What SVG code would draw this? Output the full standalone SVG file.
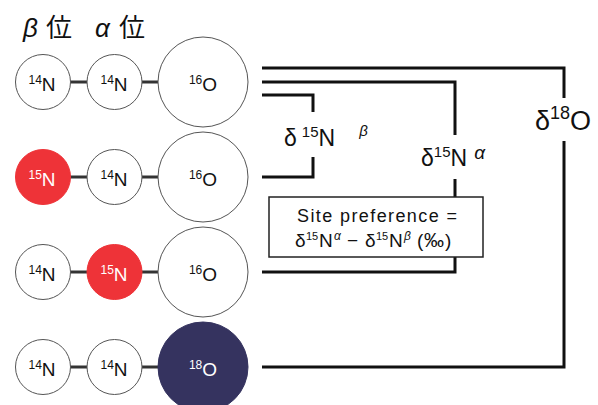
<svg xmlns="http://www.w3.org/2000/svg" width="598" height="405" viewBox="0 0 598 405">
<style>
.atom{stroke:#555;stroke-width:1;fill:#fff}
.red{fill:#EE3338;stroke:#EE3338}
.navy{fill:#35335F;stroke:#35335F}
.bond{stroke:#333;stroke-width:3}
.conn{fill:none;stroke:#111;stroke-width:3}
text{font-family:"Liberation Sans","Noto Sans CJK JP",sans-serif;fill:#111}
.lbl{font-size:19px;text-anchor:middle}
.w{fill:#fff}
.sup{font-size:12px}
.big{font-size:23px}
.bsup{font-size:15px}
.gk{font-style:italic}
.title{font-size:26px}
.box{font-size:18px}
.bx{font-size:19px}
.bs{font-size:11px}
</style>
<g id="title">
<text class="title gk" x="23" y="37">β</text>
<text class="title" x="46" y="37" font-family="Noto Sans CJK JP, sans-serif">位</text>
<text class="title gk" x="95" y="37">α</text>
<text class="title" x="119" y="37" font-family="Noto Sans CJK JP, sans-serif">位</text>
</g>
<g id="connectors">
<path class="conn" d="M262,68 H564 V98 M564,141 V367 H262"/>
<path class="conn" d="M262,82 H455 V135 M455,179 V272 H262"/>
<path class="conn" d="M262,95 H313 V112 M313,157 V177 H262"/>
</g>
<g id="row1">
<line class="bond" x1="70" y1="82" x2="88" y2="82"/>
<line class="bond" x1="141" y1="82" x2="159" y2="82"/>
<circle class="atom" cx="43" cy="82" r="27.5"/>
<circle class="atom" cx="114.5" cy="82" r="27.5"/>
<circle class="atom" cx="203" cy="82" r="45"/>
<text class="lbl" x="42" y="91"><tspan class="sup" dy="-7">14</tspan><tspan dy="7">N</tspan></text>
<text class="lbl" x="114" y="91"><tspan class="sup" dy="-7">14</tspan><tspan dy="7">N</tspan></text>
<text class="lbl" x="203" y="91"><tspan class="sup" dy="-7">16</tspan><tspan dy="7">O</tspan></text>
</g>
<g id="row2">
<line class="bond" x1="70" y1="177" x2="88" y2="177"/>
<line class="bond" x1="141" y1="177" x2="159" y2="177"/>
<circle class="atom red" cx="43" cy="177" r="27.5"/>
<circle class="atom" cx="114.5" cy="177" r="27.5"/>
<circle class="atom" cx="203" cy="177" r="45"/>
<text class="lbl w" x="42" y="186"><tspan class="sup" dy="-7">15</tspan><tspan dy="7">N</tspan></text>
<text class="lbl" x="114" y="186"><tspan class="sup" dy="-7">14</tspan><tspan dy="7">N</tspan></text>
<text class="lbl" x="203" y="186"><tspan class="sup" dy="-7">16</tspan><tspan dy="7">O</tspan></text>
</g>
<g id="row3">
<line class="bond" x1="70" y1="272" x2="88" y2="272"/>
<line class="bond" x1="141" y1="272" x2="159" y2="272"/>
<circle class="atom" cx="43" cy="272" r="27.5"/>
<circle class="atom red" cx="114.5" cy="272" r="27.5"/>
<circle class="atom" cx="203" cy="272" r="45"/>
<text class="lbl" x="42" y="281"><tspan class="sup" dy="-7">14</tspan><tspan dy="7">N</tspan></text>
<text class="lbl w" x="114" y="281"><tspan class="sup" dy="-7">15</tspan><tspan dy="7">N</tspan></text>
<text class="lbl" x="203" y="281"><tspan class="sup" dy="-7">16</tspan><tspan dy="7">O</tspan></text>
</g>
<g id="row4">
<line class="bond" x1="70" y1="367" x2="88" y2="367"/>
<line class="bond" x1="141" y1="367" x2="159" y2="367"/>
<circle class="atom" cx="43" cy="367" r="27.5"/>
<circle class="atom" cx="114.5" cy="367" r="27.5"/>
<circle class="atom navy" cx="203" cy="367" r="45"/>
<text class="lbl" x="42" y="376"><tspan class="sup" dy="-7">14</tspan><tspan dy="7">N</tspan></text>
<text class="lbl" x="114" y="376"><tspan class="sup" dy="-7">14</tspan><tspan dy="7">N</tspan></text>
<text class="lbl w" x="203" y="376"><tspan class="sup" dy="-7">18</tspan><tspan dy="7">O</tspan></text>
</g>
<g id="label-d15Nbeta">
<text class="big" x="284" y="146">δ<tspan class="bsup" dx="5" dy="-9">15</tspan><tspan dy="9">N</tspan><tspan class="bsup gk" dx="24" dy="-10">β</tspan></text>
</g>
<g id="label-d15Nalpha">
<text class="big" x="421" y="166">δ<tspan class="bsup" dy="-9">15</tspan><tspan dy="9">N</tspan><tspan class="gk" font-size="19" dx="7" dy="-7">α</tspan></text>
</g>
<g id="label-d18O">
<text x="535" y="130" font-size="27">δ<tspan font-size="18" dy="-11">18</tspan><tspan dy="11">O</tspan></text>
</g>
<g id="site-preference">
<rect x="269" y="197" width="214" height="60" fill="#fff" stroke="#222" stroke-width="1.5"/>
<text class="box" x="297" y="222" textLength="160">Site preference =</text>
<text class="bx" y="247"><tspan x="295">δ</tspan><tspan class="bs" x="306" dy="-7">15</tspan><tspan x="319" dy="7">N</tspan><tspan class="gk" font-size="12" x="334" dy="-7">α</tspan><tspan x="347" dy="7">−</tspan><tspan x="365">δ</tspan><tspan class="bs" x="376" dy="-7">15</tspan><tspan x="389" dy="7">N</tspan><tspan class="gk" font-size="12" x="404" dy="-7">β</tspan><tspan x="417" dy="7">(</tspan><tspan x="424" font-size="20">‰</tspan><tspan x="445">)</tspan></text>
</g>
</svg>
